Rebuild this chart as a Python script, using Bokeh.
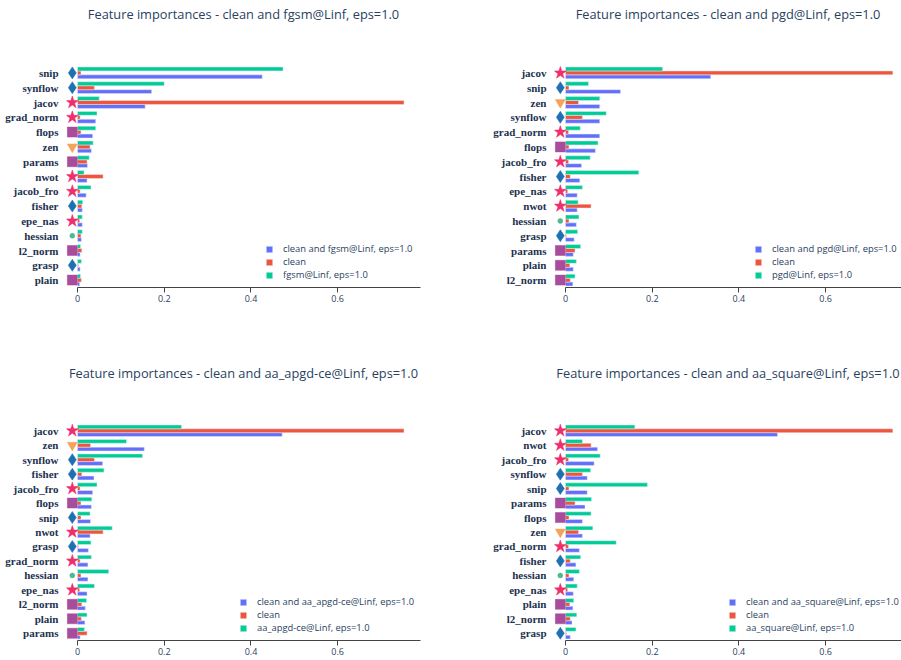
from bokeh.plotting import figure
from bokeh.models import (ColumnDataSource, FactorRange, Range1d, FixedTicker, Legend,
                          LegendItem, Title)
from bokeh.transform import dodge
from bokeh.layouts import column, row
from bokeh.embed import file_html
from bokeh.resources import INLINE

# ---------------- data ----------------
attacks = ["fgsm@Linf, eps=1.0", "pgd@Linf, eps=1.0",
           "aa_apgd-ce@Linf, eps=1.0", "aa_square@Linf, eps=1.0"]

feats_fgsm = ["snip", "synflow", "jacov", "grad_norm", "flops", "zen", "params", "nwot",
              "jacob_fro", "fisher", "epe_nas", "hessian", "l2_norm", "grasp", "plain"]
both_fgsm = [0.426, 0.171, 0.156, 0.042, 0.035, 0.032, 0.023, 0.022, 0.020, 0.011, 0.011, 0.009, 0.006, 0.006, 0.005]
clean_fgsm = [0.008, 0.039, 0.753, 0.006, 0.008, 0.029, 0.022, 0.059, 0.006, 0.010, 0.005, 0.008, 0.010, 0.002, 0.009]
atk_fgsm = [0.474, 0.200, 0.050, 0.045, 0.042, 0.036, 0.027, 0.015, 0.031, 0.012, 0.011, 0.011, 0.007, 0.009, 0.007]

feats_pgd = ["jacov", "snip", "zen", "synflow", "grad_norm", "flops", "jacob_fro", "fisher",
             "epe_nas", "nwot", "hessian", "grasp", "params", "plain", "l2_norm"]
both_pgd = [0.335, 0.127, 0.079, 0.079, 0.079, 0.069, 0.037, 0.033, 0.027, 0.027, 0.025, 0.020, 0.018, 0.018, 0.017]
clean_pgd = [0.755, 0.008, 0.030, 0.039, 0.007, 0.008, 0.007, 0.011, 0.005, 0.059, 0.008, 0.002, 0.022, 0.010, 0.011]
atk_pgd = [0.224, 0.053, 0.079, 0.094, 0.034, 0.075, 0.057, 0.169, 0.039, 0.029, 0.031, 0.028, 0.035, 0.025, 0.022]

feats_apgd = ["jacov", "zen", "synflow", "fisher", "jacob_fro", "flops", "snip", "nwot",
              "grasp", "grad_norm", "hessian", "epe_nas", "l2_norm", "plain", "params"]
both_apgd = [0.472, 0.154, 0.058, 0.038, 0.035, 0.032, 0.030, 0.029, 0.025, 0.024, 0.024, 0.022, 0.018, 0.017, 0.006]
clean_apgd = [0.753, 0.030, 0.039, 0.010, 0.006, 0.008, 0.008, 0.059, 0.002, 0.006, 0.008, 0.005, 0.010, 0.009, 0.022]
atk_apgd = [0.240, 0.113, 0.150, 0.061, 0.045, 0.033, 0.029, 0.080, 0.031, 0.032, 0.072, 0.039, 0.021, 0.022, 0.016]

feats_square = ["jacov", "nwot", "jacob_fro", "synflow", "snip", "params", "flops", "zen",
                "grad_norm", "fisher", "hessian", "epe_nas", "plain", "l2_norm", "grasp"]
both_square = [0.489, 0.074, 0.066, 0.050, 0.050, 0.045, 0.039, 0.039, 0.032, 0.024, 0.019, 0.018, 0.017, 0.015, 0.011]
clean_square = [0.755, 0.059, 0.007, 0.039, 0.008, 0.022, 0.008, 0.030, 0.007, 0.011, 0.008, 0.005, 0.010, 0.011, 0.002]
atk_square = [0.160, 0.039, 0.080, 0.058, 0.189, 0.060, 0.059, 0.063, 0.117, 0.035, 0.032, 0.027, 0.019, 0.026, 0.024]

# proxy type of each feature -> marker kind
feature_kind = {"jacov": "star", "grad_norm": "star", "nwot": "star", "jacob_fro": "star",
                "epe_nas": "star", "snip": "diamond", "synflow": "diamond", "fisher": "diamond",
                "grasp": "diamond", "flops": "square", "params": "square", "l2_norm": "square",
                "plain": "square", "zen": "inverted_triangle", "hessian": "circle"}

tick_values = [0, 0.2, 0.4, 0.6]
tick_labels = ["0", "0.2", "0.4", "0.6"]

# ---------------- styles ----------------
KIND_STYLE = {"star": ("#EE2F6B", 13), "diamond": ("#1F70B2", 12),
              "square": ("#A84C9C", 10), "inverted_triangle": ("#F5A25B", 10),
              "circle": ("#4DB893", 5)}
C_BOTH, C_CLEAN, C_ATK = "#636EFA", "#EF553B", "#00CC96"
FONT = "Open Sans"
TXT = "#2a3f5f"
MARKER_X = -0.012
X_START = -0.0254
BAR_H = 0.8 / 3


def make_panel(attack, feats, both, clean, atk, width, height, border_top,
               border_bottom, border_right, x_end, legend_x, title_gap):
    factors = list(reversed(feats))
    p = figure(width=width, height=height, output_backend="svg", toolbar_location=None,
               y_range=FactorRange(factors=factors), x_range=Range1d(X_START, x_end),
               min_border_left=66, min_border_right=border_right,
               min_border_top=border_top, min_border_bottom=border_bottom)
    kinds = [feature_kind[f] for f in feats]
    src = ColumnDataSource(dict(
        feat=feats, both=both, clean=clean, atk=atk, kind=kinds,
        mx=[MARKER_X] * len(feats),
        mcolor=[KIND_STYLE[k][0] for k in kinds],
        msize=[KIND_STYLE[k][1] for k in kinds]))

    common = dict(left=0, height=BAR_H, line_color="#E5ECF6", line_width=0.5, source=src)
    r_both = p.hbar(y=dodge("feat", -BAR_H, range=p.y_range), right="both",
                    fill_color=C_BOTH, **common)
    r_clean = p.hbar(y=dodge("feat", 0, range=p.y_range), right="clean",
                     fill_color=C_CLEAN, **common)
    r_atk = p.hbar(y=dodge("feat", BAR_H, range=p.y_range), right="atk",
                   fill_color=C_ATK, **common)
    p.scatter(x="mx", y="feat", marker="kind", size="msize", fill_color="mcolor",
              line_color="mcolor", line_width=0.5, source=src)

    # empty spacer between the frame and the title
    p.add_layout(Title(text=" ", text_font_size="1px", standoff=title_gap), "above")

    p.title.text = "Feature importances - clean and " + attack
    p.title.align = "center"
    p.title.vertical_align = "top"
    p.title.text_font = FONT
    p.title.text_font_size = "12.8px"
    p.title.text_font_style = "normal"
    p.title.text_color = TXT
    p.title.standoff = 0

    xa = p.xaxis[0]
    xa.ticker = FixedTicker(ticks=tick_values)
    xa.major_label_overrides = {v: s for v, s in zip(tick_values, tick_labels)}
    xa.bounds = (0, x_end)
    xa.axis_line_color = "#444444"
    xa.axis_line_width = 1
    xa.major_tick_line_color = "#444444"
    xa.major_tick_out = 5
    xa.major_tick_in = 0
    xa.minor_tick_line_color = None
    xa.major_label_standoff = 2
    xa.major_label_text_font = FONT
    xa.major_label_text_font_size = "9px"
    xa.major_label_text_color = TXT

    ya = p.yaxis[0]
    ya.axis_line_color = None
    ya.major_tick_line_color = None
    ya.minor_tick_line_color = None
    ya.major_label_standoff = 2
    ya.major_label_text_font = "Liberation Serif"
    ya.major_label_text_font_style = "bold"
    ya.major_label_text_font_size = "11px"
    ya.major_label_text_color = "#22324f"

    p.xgrid.grid_line_color = None
    p.ygrid.grid_line_color = None
    p.outline_line_color = None
    p.background_fill_color = "white"
    p.border_fill_color = "white"

    legend = Legend(items=[LegendItem(label="clean and " + attack, renderers=[r_both]),
                           LegendItem(label="clean", renderers=[r_clean]),
                           LegendItem(label=attack, renderers=[r_atk])],
                    location=(legend_x, 6), orientation="vertical",
                    glyph_width=8, glyph_height=8, label_height=10, spacing=0,
                    label_standoff=10, padding=0, margin=0,
                    border_line_color=None, background_fill_alpha=0,
                    label_text_font=FONT, label_text_font_size="9.4px",
                    label_text_color=TXT)
    p.add_layout(legend, "center")
    return p


p1 = make_panel(attacks[0], feats_fgsm, both_fgsm, clean_fgsm, atk_fgsm,
                488, 363, 65, 76, 68, 0.791, 199, 38)
p2 = make_panel(attacks[1], feats_pgd, both_pgd, clean_pgd, atk_pgd,
                413, 363, 65, 76, 0, 0.775, 200, 38)
p3 = make_panel(attacks[2], feats_apgd, both_apgd, clean_apgd, atk_apgd,
                488, 296, 60, 19, 68, 0.791, 173, 37)
p4 = make_panel(attacks[3], feats_square, both_square, clean_square, atk_square,
                413, 296, 60, 19, 0, 0.775, 174, 37)

layout = column(row(p1, p2), row(p3, p4))
open("out.html", "w").write(file_html(layout, INLINE))
